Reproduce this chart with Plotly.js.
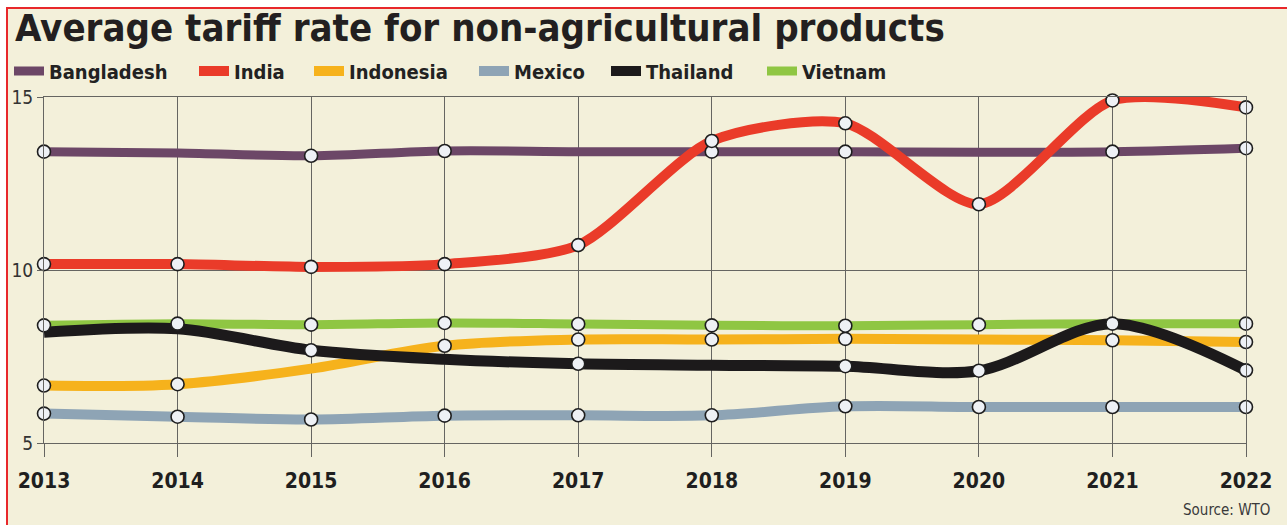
<!DOCTYPE html>
<html>
<head>
<meta charset="utf-8">
<script src="https://cdn.plot.ly/plotly-3.0.1.min.js"></script>
<style>
  html, body { margin: 0; padding: 0; background: #ffffff; width: 1287px; height: 525px; overflow: hidden; }
  #frame { position: absolute; left: 6px; top: 7px; width: 1281px; height: 518px; box-sizing: border-box;
           border-left: 2px solid #e8282b; border-top: 2px solid #e8282b; background: #f3f0da; }
  #chart { position: absolute; left: 0; top: 0; width: 1287px; height: 525px; }
</style>
</head>
<body>
<div id="frame"></div>
<div id="chart"></div>
<script>
// ---- data ----
const years = [2013, 2014, 2015, 2016, 2017, 2018, 2019, 2020, 2021, 2022];
const yearLabels = ["2013", "2014", "2015", "2016", "2017", "2018", "2019", "2020", "2021", "2022"];
const seriesNames = ["Bangladesh", "India", "Indonesia", "Mexico", "Thailand", "Vietnam"];
const bangladesh = [13.42, 13.38, 13.30, 13.44, 13.42, 13.42, 13.42, 13.40, 13.42, 13.52];
const india      = [10.17, 10.17, 10.09, 10.17, 10.72, 13.73, 14.24, 11.90, 14.90, 14.70];
const indonesia  = [6.66, 6.70, 7.15, 7.81, 7.99, 7.99, 8.01, 7.99, 7.97, 7.92];
const mexico     = [5.85, 5.76, 5.68, 5.79, 5.80, 5.80, 6.06, 6.04, 6.04, 6.04];
const thailand   = [8.20, 8.30, 7.68, 7.42, 7.29, 7.25, 7.22, 7.09, 8.45, 7.10];
const vietnam    = [8.40, 8.45, 8.42, 8.47, 8.44, 8.40, 8.39, 8.42, 8.45, 8.45];
const yTicks = [5, 10, 15];

// which points carry a circle marker in the reference (style, not data)
const markerShown = {
  Bangladesh: [1,0,1,1,0,1,1,0,1,1],
  India:      [1,1,1,1,1,1,1,1,1,1],
  Indonesia:  [1,1,0,1,1,1,1,0,1,1],
  Mexico:     [1,1,1,1,1,1,1,1,1,1],
  Thailand:   [0,0,1,0,1,0,1,1,0,1],
  Vietnam:    [1,1,1,1,1,1,1,1,1,1]
};

const values = { Bangladesh: bangladesh, India: india, Indonesia: indonesia, Mexico: mexico, Thailand: thailand, Vietnam: vietnam };
const colors = { Bangladesh: "#6c4767", India: "#ea3b29", Indonesia: "#f6b21c", Mexico: "#8ea4b5", Thailand: "#1c1a1b", Vietnam: "#8fc643" };
const widths = { Bangladesh: 9, India: 10, Indonesia: 10, Mexico: 10, Thailand: 11, Vietnam: 9 };
const smooth = { Bangladesh: 1, India: 0.72, Indonesia: 1, Mexico: 1, Thailand: 0.9, Vietnam: 1 };

const FONT = "'Liberation Sans Narrow', 'DejaVu Sans Condensed', 'Roboto Condensed', 'Arial Narrow', sans-serif";
const GRID = "#656561";
const W = 1287, H = 525;

// legend swatch start (px from left of page) for each entry
const legendX = [15, 200, 315, 480, 612, 768];
const legendIds = ["legend", "legend2", "legend3", "legend4", "legend5", "legend6"];

// draw order (bottom -> top)
const drawOrder = ["Mexico", "Indonesia", "Vietnam", "Bangladesh", "India", "Thailand"];

const traces = [];
drawOrder.forEach(name => {
  const k = seriesNames.indexOf(name);
  traces.push({
    type: "scatter", mode: "lines", name: name,
    x: years, y: values[name],
    line: { color: colors[name], width: widths[name], shape: "spline", smoothing: smooth[name] },
    legend: legendIds[k],
    cliponaxis: false, hoverinfo: "x+y+name"
  });
});
drawOrder.forEach(name => {
  const mx = [], my = [];
  years.forEach((yr, i) => { if (markerShown[name][i]) { mx.push(yr); my.push(values[name][i]); } });
  traces.push({
    type: "scatter", mode: "markers", name: name, showlegend: false,
    x: mx, y: my,
    marker: { size: 13, color: "#eef1f5", line: { color: "#1e1e1e", width: 1.6 } },
    cliponaxis: false, hoverinfo: "x+y+name"
  });
});

const layout = {
  width: W, height: H,
  paper_bgcolor: "rgba(0,0,0,0)", plot_bgcolor: "rgba(0,0,0,0)",
  margin: { l: 44, r: 41, t: 97, b: 82, pad: 0 },
  showlegend: true,
  title: {
    text: "Average tariff rate for non-agricultural products",
    font: { family: FONT, size: 38, color: "#231f20", weight: "bold" },
    xref: "container", x: 15 / W, xanchor: "left",
    yref: "container", y: 1 - 14 / H, yanchor: "top",
    pad: { t: 0, l: 0 }
  },
  xaxis: {
    range: [2013, 2022], tickmode: "array", tickvals: years, ticktext: yearLabels,
    showgrid: true, gridcolor: GRID, gridwidth: 1,
    ticks: "outside", ticklen: 13, tickcolor: GRID, tickwidth: 1,
    showline: true, mirror: true, linecolor: GRID, linewidth: 1,
    zeroline: false, ticklabelstandoff: 6,
    tickfont: { family: FONT, size: 21, color: "#1f1f1f", weight: "bold" },
    fixedrange: true
  },
  yaxis: {
    range: [5, 15], tickmode: "array", tickvals: yTicks,
    showgrid: true, gridcolor: GRID, gridwidth: 1,
    ticks: "outside", ticklen: 6, tickcolor: GRID, tickwidth: 1,
    showline: true, mirror: true, linecolor: GRID, linewidth: 1,
    zeroline: false, ticklabelstandoff: 0,
    tickfont: { family: FONT, size: 19, color: "#333" },
    fixedrange: true
  },
  annotations: [{
    text: "Source: WTO", showarrow: false,
    xref: "paper", x: (1272 - 44) / 1202, xanchor: "right",
    yref: "paper", y: -(510 - 443) / 346, yanchor: "middle",
    font: { family: FONT, size: 15, color: "#3a3a3a" }
  }]
};

legendIds.forEach((id, k) => {
  layout[id] = {
    orientation: "h",
    xref: "container", x: (legendX[k] - 6) / W, xanchor: "left",
    yref: "container", y: 1 - 71 / H, yanchor: "middle",
    font: { family: FONT, size: 20, color: "#222", weight: "bold" },
    bgcolor: "rgba(0,0,0,0)", borderwidth: 0
  };
});

Plotly.newPlot("chart", traces, layout, { displayModeBar: false, staticPlot: true });
</script>
</body>
</html>
